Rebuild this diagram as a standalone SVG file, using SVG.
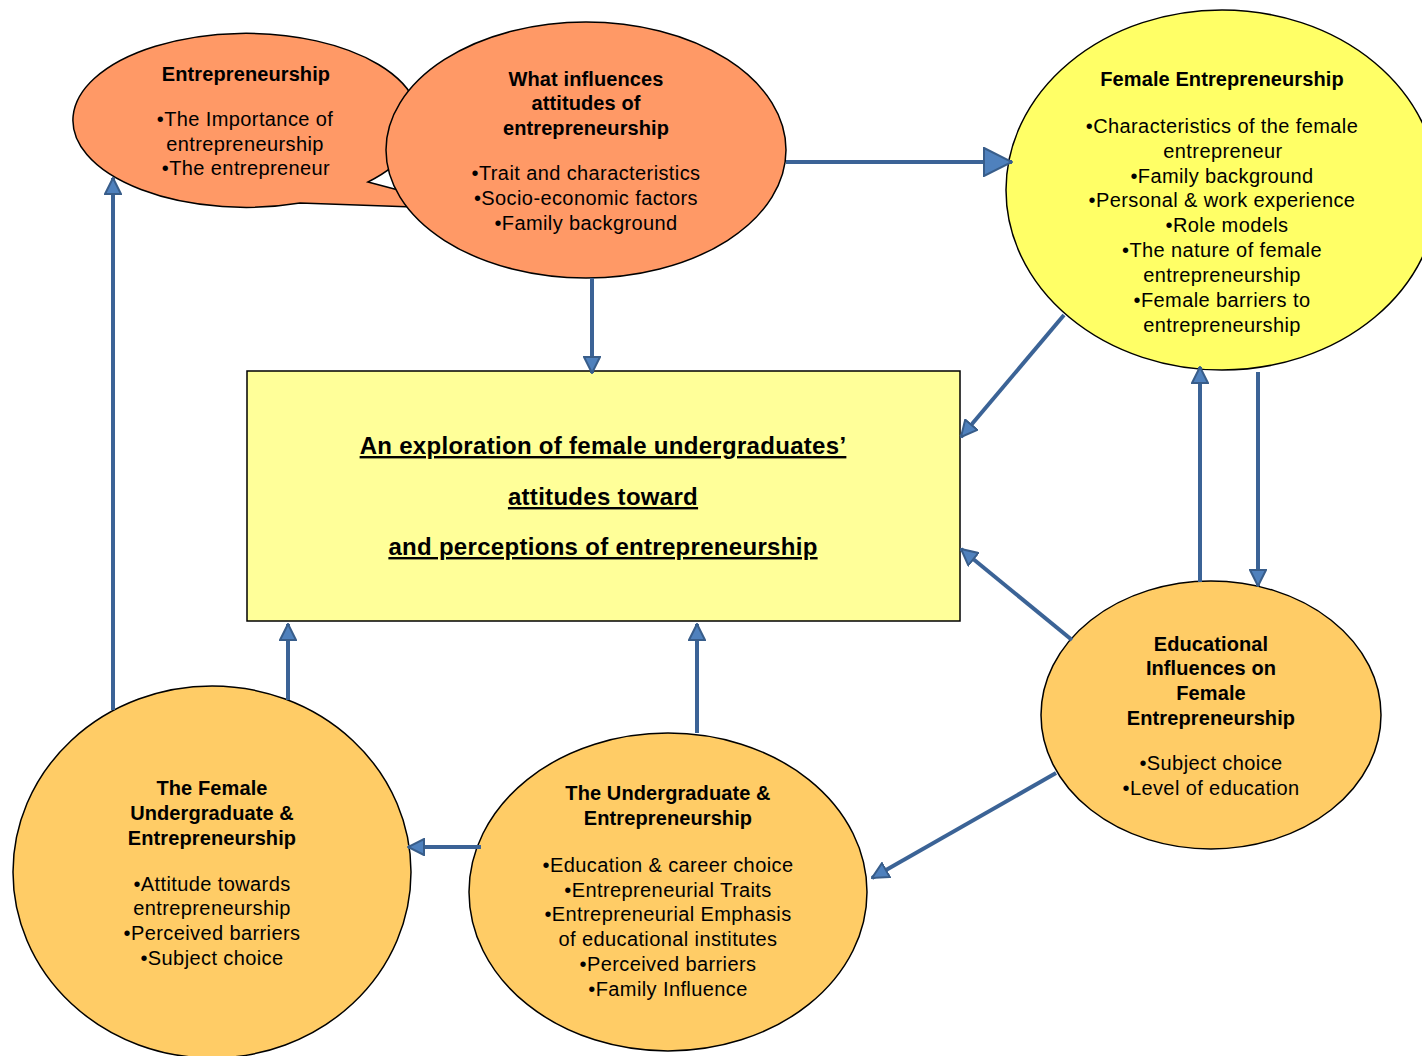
<svg xmlns="http://www.w3.org/2000/svg" width="1422" height="1056" viewBox="0 0 1422 1056">
<style>
text{font-family:"Liberation Sans",Arial,sans-serif;font-size:20px;letter-spacing:0.4px;fill:#000;text-anchor:middle}
.b{font-weight:bold;letter-spacing:0.1px}
.t{font-weight:bold;font-size:24px;letter-spacing:0.3px;text-decoration:underline}
.shape{stroke:#000;stroke-width:1.5}
.or{fill:#FF9966}
.ye{fill:#FFFF66}
.go{fill:#FFCC66}
.cn{stroke:#3B6396;stroke-width:4;fill:none}
</style>
<defs>
<marker id="ah" viewBox="0 0 18 18" refX="17" refY="9" markerWidth="18" markerHeight="18" markerUnits="userSpaceOnUse" orient="auto">
<path d="M1,1 L17,9 L1,17 Z" fill="#4F81BD" stroke="#385D8A" stroke-width="2"/>
</marker>
<marker id="big" viewBox="0 0 30 30" refX="29" refY="15" markerWidth="30" markerHeight="30" markerUnits="userSpaceOnUse" orient="auto">
<path d="M1,1 L29,15 L1,29 Z" fill="#4F81BD" stroke="#385D8A" stroke-width="2"/>
</marker>
</defs>
<rect width="1422" height="1056" fill="#fff"/>
<g id="entrepreneurship">
<path class="shape or" d="M368,182 A173,87 0 1 0 300,203 L470,209 Z"/>
<text class="b" x="246" y="81">Entrepreneurship</text>
<text x="245" y="126">•The Importance of</text>
<text x="245" y="151">entrepreneurship</text>
<text x="246" y="175">•The entrepreneur</text>
</g>
<g id="what-influences">
<ellipse class="shape or" cx="586" cy="150" rx="200" ry="128"/>
<text class="b" x="586" y="86">What influences</text>
<text class="b" x="586" y="110">attitudes of</text>
<text class="b" x="586" y="135">entrepreneurship</text>
<text x="586" y="180">•Trait and characteristics</text>
<text x="586" y="205">•Socio-economic factors</text>
<text x="586" y="230">•Family background</text>
</g>
<g id="female-entrepreneurship">
<ellipse class="shape ye" cx="1222" cy="190" rx="216" ry="180"/>
<text class="b" x="1222" y="86">Female Entrepreneurship</text>
<text x="1222" y="133">•Characteristics of the female</text>
<text x="1223" y="158">entrepreneur</text>
<text x="1222" y="183">•Family background</text>
<text x="1222" y="207">•Personal &amp; work experience</text>
<text x="1227" y="232">•Role models</text>
<text x="1222" y="257">•The nature of female</text>
<text x="1222" y="282">entrepreneurship</text>
<text x="1222" y="307">•Female barriers to</text>
<text x="1222" y="332">entrepreneurship</text>
</g>
<g id="exploration">
<rect class="shape" x="247" y="371" width="713" height="250" fill="#FFFF99"/>
<text class="t" x="603" y="454">An exploration of female undergraduates’</text>
<text class="t" x="603" y="505">attitudes toward</text>
<text class="t" x="603" y="555">and perceptions of entrepreneurship</text>
</g>
<g id="educational-influences">
<ellipse class="shape go" cx="1211" cy="715" rx="170" ry="134"/>
<text class="b" x="1211" y="651">Educational</text>
<text class="b" x="1211" y="675">Influences on</text>
<text class="b" x="1211" y="700">Female</text>
<text class="b" x="1211" y="725">Entrepreneurship</text>
<text x="1211" y="770">•Subject choice</text>
<text x="1211" y="795">•Level of education</text>
</g>
<g id="undergraduate">
<ellipse class="shape go" cx="668" cy="892" rx="199" ry="159"/>
<text class="b" x="668" y="800">The Undergraduate  &amp;</text>
<text class="b" x="668" y="825">Entrepreneurship</text>
<text x="668" y="872">•Education &amp; career choice</text>
<text x="668" y="897">•Entrepreneurial Traits</text>
<text x="668" y="921">•Entrepreneurial Emphasis</text>
<text x="668" y="946">of educational institutes</text>
<text x="668" y="971">•Perceived barriers</text>
<text x="668" y="996">•Family Influence</text>
</g>
<g id="female-undergraduate">
<ellipse class="shape go" cx="212" cy="872" rx="199" ry="186"/>
<text class="b" x="212" y="795">The Female</text>
<text class="b" x="212" y="820">Undergraduate  &amp;</text>
<text class="b" x="212" y="845">Entrepreneurship</text>
<text x="212" y="891">•Attitude towards</text>
<text x="212" y="915">entrepreneurship</text>
<text x="212" y="940">•Perceived barriers</text>
<text x="212" y="965">•Subject choice</text>
</g>
<g id="connectors">
<line class="cn" x1="786" y1="162" x2="1012" y2="162" marker-end="url(#big)"/>
<line class="cn" x1="592" y1="278" x2="592" y2="373" marker-end="url(#ah)"/>
<line class="cn" x1="1064" y1="315" x2="961" y2="437" marker-end="url(#ah)"/>
<line class="cn" x1="1072" y1="640" x2="961" y2="549" marker-end="url(#ah)"/>
<line class="cn" x1="1200" y1="582" x2="1200" y2="367" marker-end="url(#ah)"/>
<line class="cn" x1="1258" y1="372" x2="1258" y2="586" marker-end="url(#ah)"/>
<line class="cn" x1="1056" y1="773" x2="872" y2="878" marker-end="url(#ah)"/>
<line class="cn" x1="697" y1="733" x2="697" y2="624" marker-end="url(#ah)"/>
<line class="cn" x1="481" y1="847" x2="408" y2="847" marker-end="url(#ah)"/>
<line class="cn" x1="288" y1="700" x2="288" y2="624" marker-end="url(#ah)"/>
<line class="cn" x1="113" y1="710" x2="113" y2="178" marker-end="url(#ah)"/>
</g>
</svg>
